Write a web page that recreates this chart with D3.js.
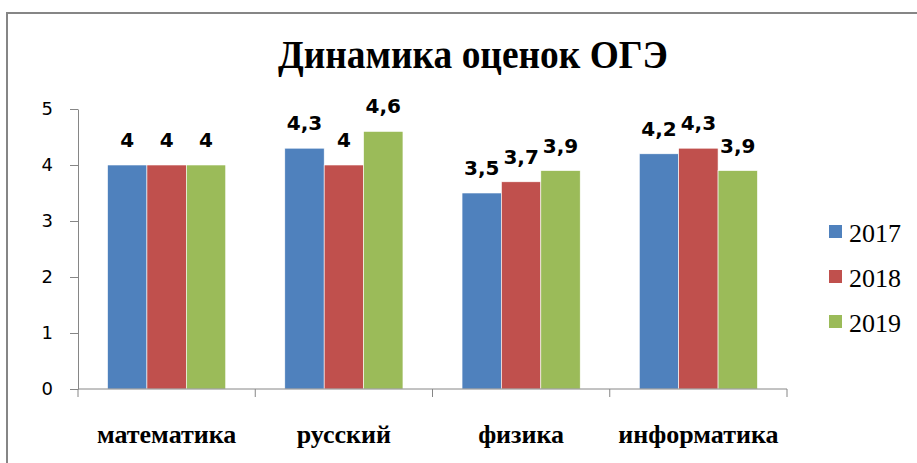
<!DOCTYPE html>
<html>
<head>
<meta charset="utf-8">
<script src="https://cdn.jsdelivr.net/npm/d3@7"></script>
</head>
<body style="margin:0">
<svg id="chart" width="917" height="463" font-family="Liberation Serif"></svg>
<script>
// data
var subjects = ["математика", "русский", "физика", "информатика"];
var years = ["2017", "2018", "2019"];
var scores2017 = [4, 4.3, 3.5, 4.2];
var scores2018 = [4, 4, 3.7, 4.3];
var scores2019 = [4, 4.6, 3.9, 3.9];
var yTicks = [0, 1, 2, 3, 4, 5];
var colors = ["#4f81bd", "#c0504d", "#9bbb59"];

var series = [scores2017, scores2018, scores2019];

var svg = d3.select("#chart");
var W = +svg.attr("width"), H = +svg.attr("height");

svg.append("rect").attr("width", W).attr("height", H).attr("fill", "#fff");

// frame (only left + top visible)
svg.append("path")
  .attr("d", "M7," + H + "V13H" + W)
  .attr("fill", "none")
  .attr("stroke", "#868686")
  .attr("stroke-width", 2);

// title
svg.append("text")
  .attr("x", 473).attr("y", 68)
  .attr("text-anchor", "middle")
  .style("font-family", "'Liberation Serif'")
  .attr("font-weight", "bold")
  .attr("font-size", 39)
  .attr("textLength", 390)
  .attr("lengthAdjust", "spacingAndGlyphs")
  .text("Динамика оценок ОГЭ");

var x = d3.scaleBand()
  .domain(subjects)
  .range([78, 787])
  .paddingInner(1 / 3)
  .paddingOuter(1 / 6);

var xs = d3.scaleBand()
  .domain(years)
  .range([0, x.bandwidth()]);

var y = d3.scaleLinear()
  .domain([0, 5])
  .range([389, 109]);

// y axis
var yAxis = svg.append("g")
  .attr("transform", "translate(78,0)")
  .call(d3.axisLeft(y).tickValues(yTicks).tickSize(8).tickSizeOuter(0).tickPadding(17).tickFormat(d3.format("d")));
yAxis.attr("font-family", "DejaVu Sans").attr("font-size", 18);
yAxis.select(".domain").attr("stroke", "#868686");
yAxis.selectAll(".tick line").attr("stroke", "#868686");
yAxis.selectAll(".tick text").attr("fill", "#000");

// bars
var groups = svg.append("g").selectAll("g")
  .data(years)
  .enter().append("g")
  .attr("fill", (d, i) => colors[i]);

groups.selectAll("rect")
  .data((d, i) => subjects.map((s, j) => ({ s: s, yr: d, v: series[i][j] })))
  .enter().append("rect")
  .attr("x", d => x(d.s) + xs(d.yr))
  .attr("y", d => y(d.v))
  .attr("width", xs.bandwidth())
  .attr("height", d => y(0) - y(d.v))
  .attr("stroke", "#fff")
  .attr("stroke-width", 0.6);

// value labels
groups.selectAll("text")
  .data((d, i) => subjects.map((s, j) => ({ s: s, yr: d, v: series[i][j] })))
  .enter().append("text")
  .attr("x", d => x(d.s) + xs(d.yr) + xs.bandwidth() / 2)
  .attr("y", d => y(d.v) - 18)
  .attr("text-anchor", "middle")
  .attr("fill", "#000")
  .style("font-family", "'DejaVu Sans'")
  .attr("font-weight", "bold")
  .attr("font-size", 20)
  .text(d => String(d.v).replace(".", ","));

// x axis
var xg = svg.append("g");
xg.append("line")
  .attr("x1", x.range()[0]).attr("x2", x.range()[1])
  .attr("y1", y(0)).attr("y2", y(0))
  .attr("stroke", "#868686");
xg.selectAll("line.tk")
  .data(d3.range(subjects.length + 1))
  .enter().append("line")
  .attr("class", "tk")
  .attr("x1", i => x.range()[0] + i * x.step())
  .attr("x2", i => x.range()[0] + i * x.step())
  .attr("y1", y(0)).attr("y2", y(0) + 8)
  .attr("stroke", "#868686");
xg.selectAll("text")
  .data(subjects)
  .enter().append("text")
  .attr("x", d => x(d) + x.bandwidth() / 2)
  .attr("y", 443)
  .attr("text-anchor", "middle")
  .style("font-family", "'Liberation Serif'")
  .attr("font-weight", "bold")
  .attr("font-size", 26)
  .text(d => d);

// legend
var legend = svg.append("g").selectAll("g")
  .data(years)
  .enter().append("g")
  .attr("transform", (d, i) => "translate(829," + (225 + i * 45) + ")");
legend.append("rect")
  .attr("width", 13).attr("height", 13)
  .attr("fill", (d, i) => colors[i]);
legend.append("text")
  .attr("x", 20).attr("y", 17)
  .style("font-family", "'Liberation Serif'")
  .attr("font-size", 26)
  .text(d => d);
</script>
</body>
</html>
